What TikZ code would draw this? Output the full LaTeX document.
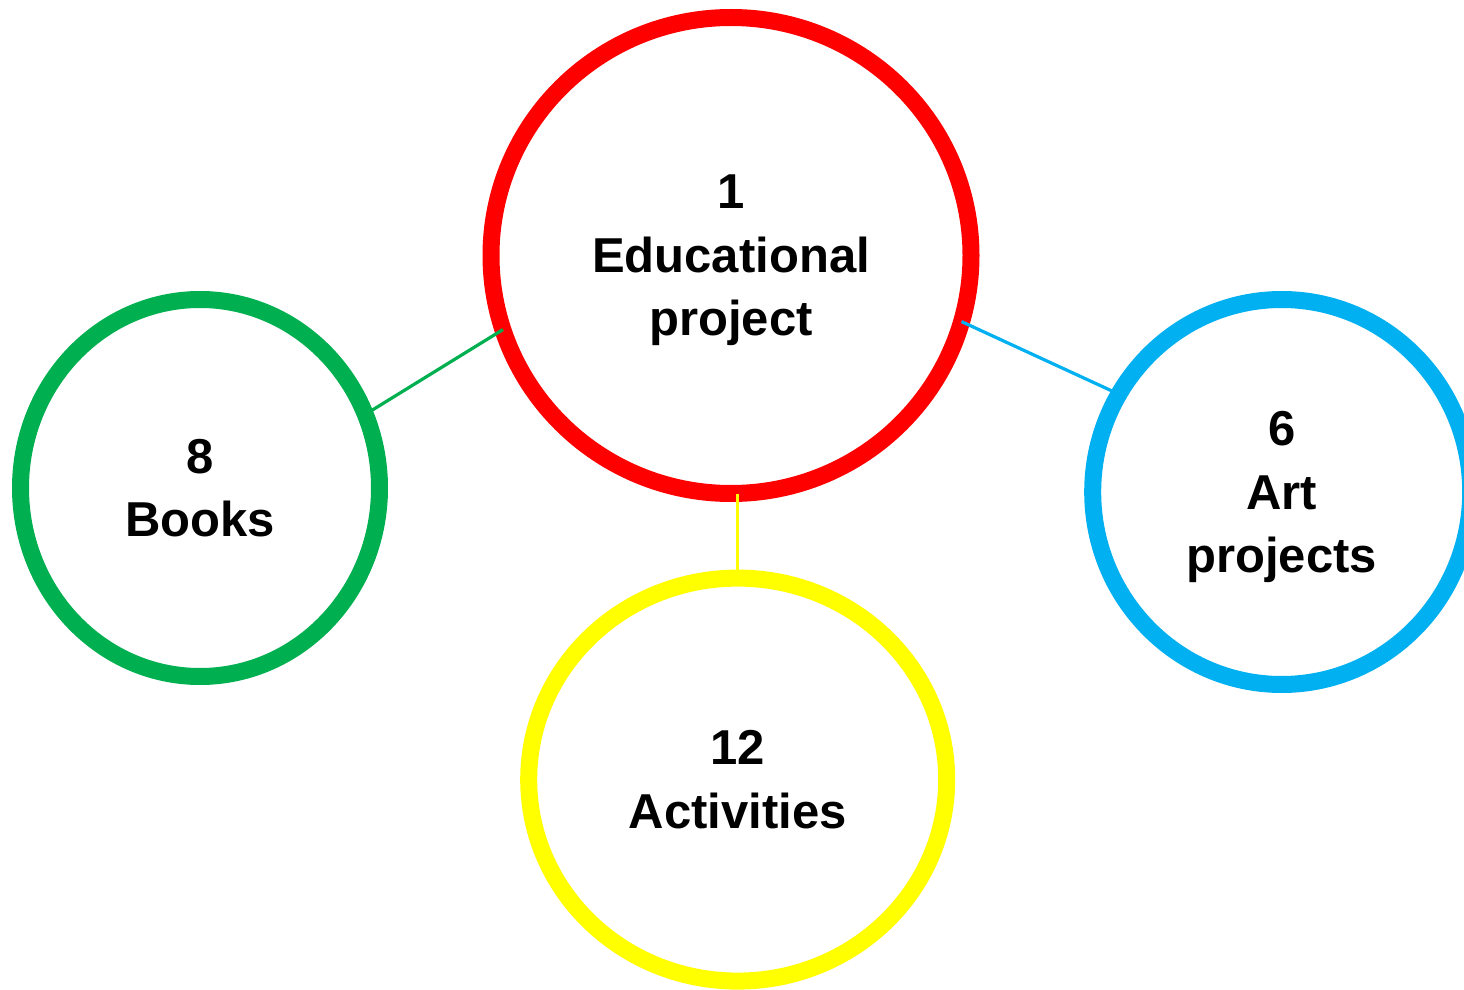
\documentclass[tikz,border=0pt]{standalone}
\usepackage{fontspec}
\setmainfont{Liberation Sans}
\usetikzlibrary{positioning,shapes.geometric}
\definecolor{projred}{HTML}{FF0000}
\definecolor{bookgreen}{HTML}{00B050}
\definecolor{artblue}{HTML}{00B0F0}
\definecolor{actyellow}{HTML}{FFFF00}

\begin{document}
\begin{tikzpicture}[
    x=0.5pt, y=-0.5pt,
    bubble/.style={ellipse, draw, fill=white, line width=8.5pt, inner sep=0pt, outer sep=0pt,
        align=center, text depth=0pt, font=\fontsize{24.5}{31.75}\selectfont\bfseries},
    link/.style={line width=1.6pt}
]
\useasboundingbox (0,0) rectangle (1464,990);

% --- NODES ---

% Centre: the project
\node[bubble, draw=projred, minimum width=240pt, minimum height=238pt] (project) at (731,255.5) {1\\Educational\\project};

% Left: books
\node[bubble, draw=bookgreen, minimum width=179.5pt, minimum height=188.5pt] (books) at (200,488) {8\\Books};

% Right: art projects
\node[bubble, draw=artblue, minimum width=189pt, minimum height=192.5pt] (art) at (1281.7,492) {6\\Art\\projects};

% Bottom: activities
\node[bubble, draw=actyellow, minimum width=209pt, minimum height=201.5pt, below=42.3pt of project, xshift=3.35pt] (activities) {12\\Activities};

% --- EDGES ---
\draw[link, bookgreen] (books.24.5) -- (project.198);
\draw[link, artblue] (project.-16) -- (art.149);
\draw[link, actyellow] (activities.north) -- (activities.north |- project.south);

\end{tikzpicture}
\end{document}
